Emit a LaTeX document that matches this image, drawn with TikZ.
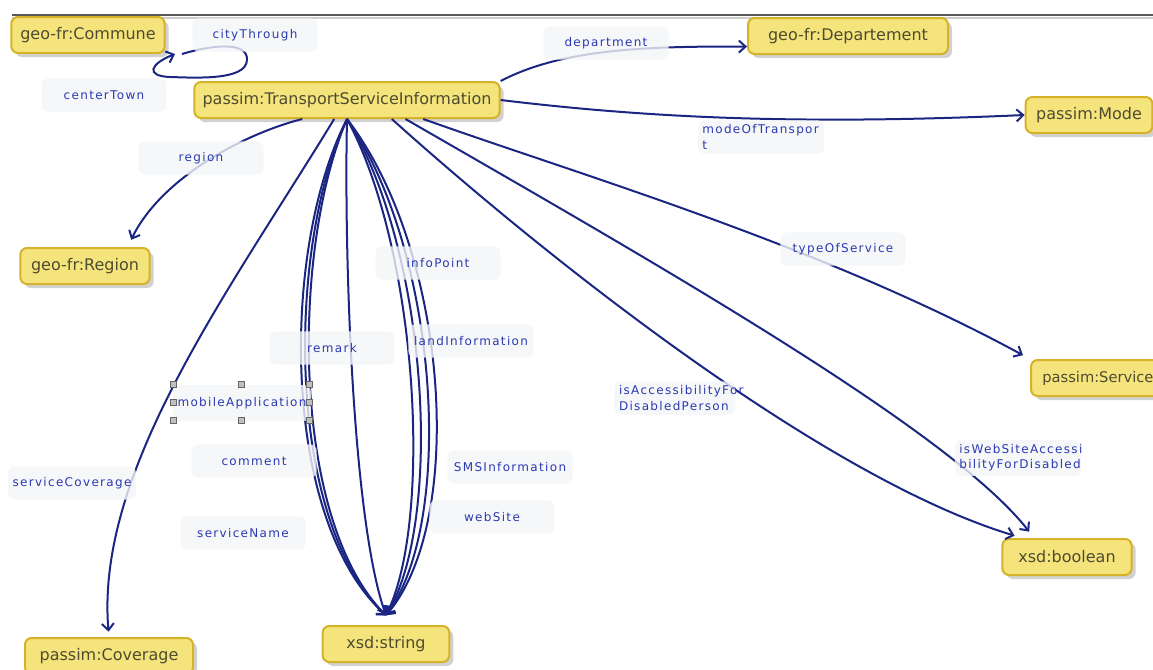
\documentclass[tikz,border=0pt]{standalone}
\usepackage{fontspec}
\setmainfont{DejaVu Sans}
\newfontfamily\labelfont[LetterSpace=11]{DejaVu Sans}
\usepackage{tikz}
\usepackage{xcolor}
\usetikzlibrary{arrows.meta,shadows}
\definecolor{boxfill}{RGB}{245,228,124}
\definecolor{boxline}{RGB}{214,178,40}
\definecolor{boxtext}{RGB}{78,76,48}
\definecolor{edgeblue}{RGB}{26,38,130}
\definecolor{labelblue}{RGB}{42,58,176}
\definecolor{labelfill}{RGB}{244,245,248}
\tikzset{every picture/.style={line width=0.75pt}}
\tikzset{
  classbox/.style={draw=boxline, line width=1.5pt, fill=boxfill, rounded corners=5pt, text=boxtext,
    font=\fontsize{12}{14}\selectfont, inner xsep=5pt, minimum width=95pt, minimum height=27pt,
    drop shadow={shadow xshift=3pt, shadow yshift=-3pt, fill=black!45, opacity=0.4}},
  proplabel/.style={fill=labelfill, fill opacity=0.8, text opacity=1, rounded corners=5pt, text=labelblue,
    font=\labelfont\fontsize{9}{11.5}\selectfont, minimum width=94pt, minimum height=25pt},
  edge/.style={draw=edgeblue, line width=1.5pt, -{Straight Barb[length=5pt,width=9pt,line width=1.5pt]}},
  handle/.style={draw=black!60, fill=black!25, line width=0.5pt}
}

\begin{document}
\begin{tikzpicture}[x=0.75pt,y=0.75pt,yscale=-1,xscale=1]
\useasboundingbox (0,0) rectangle (1153,669);

%Window edge
\draw [line width=1.5pt, black!20] (12,17.5) -- (1153,17.5) ;
\draw [line width=1.8pt, black!65] (12,15) -- (1153,15) ;

%Shape: Class boxes
\draw (347,100) node (tsi) [classbox, minimum width=229pt] {passim:TransportServiceInformation};
\draw (88,35) node (commune) [classbox, minimum width=115pt] {geo-fr:Commune};
\draw (848,36) node (dept) [classbox, minimum width=150pt] {geo-fr:Departement};
\draw (1089,115) node (mode) [classbox] {passim:Mode};
\draw (85,266) node (region) [classbox, minimum width=97pt] {geo-fr:Region};
\draw (1030,378) node (service) [classbox, anchor=west, minimum width=105pt, text width=88pt, font=\fontsize{11}{14}\selectfont] {passim:Service};
\draw (1067,557) node (boolean) [classbox, minimum width=97pt] {xsd:boolean};
\draw (386,644) node (string) [classbox, outer ysep=8pt] {xsd:string};
\draw (109,656) node (coverage) [classbox, minimum width=126pt] {passim:Coverage};

%Curve Lines
\coordinate (loopA) at (182,54);
\coordinate (cityTip) at (175,54);
\draw [edge] (loopA) .. controls (215,44) and (248,42) .. (247,60) .. controls (246,80) and (200,78) .. (170,77) .. controls (145,76) and (150,64) .. (cityTip) ;
\draw [edge] (tsi.north east) .. controls (560,50) and (640,46) .. (dept.186) ;
\draw [edge] (tsi.east) .. controls (650,118) and (800,125) .. (mode.west) ;
\draw [edge, shorten >=6pt] (tsi.203) .. controls (240,135) and (160,180) .. (region.24) ;
\draw [edge, shorten >=4pt] (tsi.236) .. controls (230,290) and (95,470) .. (coverage.north) ;
\draw [edge, shorten >=6pt] (tsi.-14) .. controls (580,175) and (820,245) .. (service.north west) ;
\draw [edge, shorten >=6pt] (tsi.-23) .. controls (560,270) and (830,480) .. (boolean.157) ;
\draw [edge, shorten >=6pt] (tsi.-18) .. controls (650,260) and (950,430) .. (boolean.150) ;

%Curve Lines: bundle to xsd:string
\foreach \ca/\cb in {280/281, 286/286, 291/291, 344/352, 418/433, 428/444, 438/456, 448/467}
  \draw [edge] (tsi.south) .. controls (\ca,250) and (\cb,520) .. (string.north) ;

% Text Node
\draw (255,35) node (lblCity) [proplabel] {cityThrough};
% Text Node
\draw (104,95) node (lblCenter) [proplabel] {centerTown};
% Text Node
\draw (606,43) node (lblDept) [proplabel] {department};
% Text Node
\draw (761,137) node (lblMode) [proplabel, text width=88pt, align=left] {modeOfTranspor\\t};
% Text Node
\draw (201,158) node (lblRegion) [proplabel] {region};
% Text Node
\draw (843,249) node (lblType) [proplabel] {typeOfService};
% Text Node
\draw (438,263) node (lblInfo) [proplabel] {infoPoint};
% Text Node
\draw (332,348) node (lblRemark) [proplabel] {remark};
% Text Node
\draw (471,341) node (lblLand) [proplabel] {landInformation};
% Text Node
\draw (242,403) node (lblMobile) [proplabel, minimum width=102pt, minimum height=27pt] {mobileApplication};
% Text Node
\draw (675,398) node (lblAccess) [proplabel, text width=84pt, minimum width=90pt, align=left] {isAccessibilityFor\\DisabledPerson};
% Text Node
\draw (254,461) node (lblComment) [proplabel] {comment};
% Text Node
\draw (72,483) node (lblCoverage) [proplabel] {serviceCoverage};
% Text Node
\draw (510,467) node (lblSMS) [proplabel] {SMSInformation};
% Text Node
\draw (1018,458) node (lblWebAccess) [proplabel, text width=88pt, align=left] {isWebSiteAccessi\\bilityForDisabled};
% Text Node
\draw (492,517) node (lblWeb) [proplabel] {webSite};
% Text Node
\draw (243,533) node (lblName) [proplabel] {serviceName};

%Shape: selection handles
\foreach \hx/\hy in {173/384, 241/384, 309/384, 173/402, 309/402, 173/420, 241/420, 309/420}
  \draw [handle] (\hx-3,\hy-3) rectangle (\hx+3,\hy+3) ;

\end{tikzpicture}
\end{document}
